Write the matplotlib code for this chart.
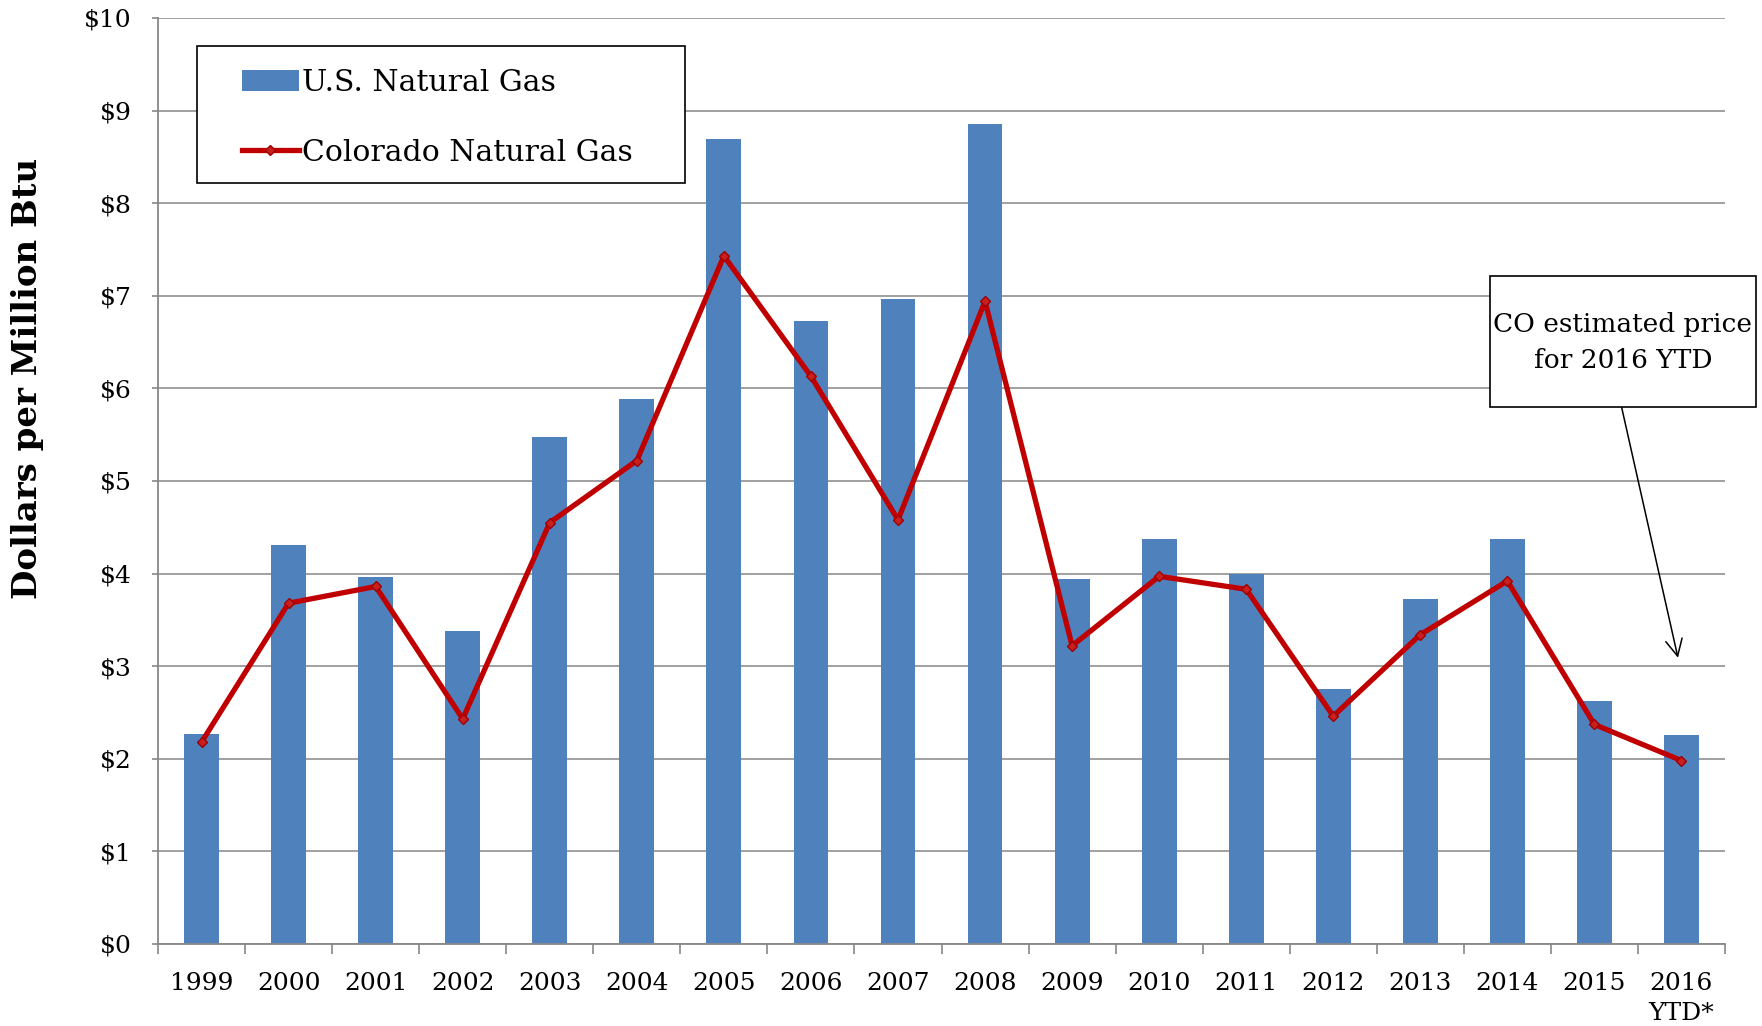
import matplotlib
matplotlib.use('Agg')
import matplotlib.pyplot as plt
from matplotlib.patches import Rectangle
import numpy as np

years = ['1999', '2000', '2001', '2002', '2003', '2004', '2005', '2006', '2007',
         '2008', '2009', '2010', '2011', '2012', '2013', '2014', '2015', '2016\nYTD*']
us_gas = [2.27, 4.31, 3.96, 3.38, 5.47, 5.89, 8.69, 6.73, 6.97,
          8.86, 3.94, 4.37, 4.00, 2.75, 3.73, 4.37, 2.62, 2.26]
co_gas = [2.18, 3.68, 3.86, 2.43, 4.55, 5.22, 7.43, 6.13, 4.58,
          6.94, 3.22, 3.97, 3.83, 2.46, 3.34, 3.92, 2.37, 1.98]
y_ticks = list(range(0, 11))
y_labels = ['$' + str(v) for v in y_ticks]

plt.rcParams['font.family'] = ['DejaVu Serif']

fig = plt.figure(figsize=(17.62, 10.26), dpi=100)
ax = fig.add_axes([0.0897, 0.08, 0.8893, 0.9025])

x = np.arange(len(years))
bars = ax.bar(x, us_gas, width=0.4, color='#4f81bd', zorder=2)
line, = ax.plot(x, co_gas, color='#c00000', linewidth=3.8, marker='D', markersize=5,
                markerfacecolor='#c8201e', markeredgecolor='#a00000', zorder=3)

ax.set_xlim(-0.5, len(years) - 0.5)
ax.set_ylim(0, 10)
ax.set_yticks(y_ticks)
ax.set_yticklabels(y_labels, fontsize=18)
ax.set_xticks(x)
ax.set_xticklabels(years, fontsize=18, linespacing=1.4)
ax.set_xticks(np.arange(-0.5, len(years), 1), minor=True)
ax.tick_params(axis='x', which='major', length=0, pad=20)
ax.tick_params(axis='x', which='minor', length=7, color='#888888', width=1.2)
ax.tick_params(axis='y', length=4, color='#888888', width=1.2, pad=15)
ax.grid(axis='y', color='#999999', linewidth=1.3, zorder=0)

for s in ['top', 'right']:
    ax.spines[s].set_visible(False)
for s in ['left', 'bottom']:
    ax.spines[s].set_color('#888888')
    ax.spines[s].set_linewidth(1.3)

fig.text(0.0158, 0.631, 'Dollars per Million Btu', rotation=90, fontsize=24.5,
         fontweight='bold', ha='center', va='center')

# legend: frame drawn separately so padding can differ left/right vs top/bottom
ax.add_patch(Rectangle((0.0249, 0.8218), 0.3114, 0.148, transform=ax.transAxes,
                       facecolor='white', edgecolor='black', linewidth=1.2, zorder=4))
leg = ax.legend([bars, line], ['U.S. Natural Gas', 'Colorado Natural Gas'],
                loc='upper left', bbox_to_anchor=(0.0536, 0.945), fontsize=21.5,
                frameon=False, borderpad=0, labelspacing=1.4, handlelength=1.9,
                handletextpad=0.1, borderaxespad=0)
leg.set_zorder(5)

# annotation box
fig.patches.append(Rectangle((0.8456, 0.6033), 0.151, 0.1277, transform=fig.transFigure,
                             facecolor='white', edgecolor='black', linewidth=1.2,
                             figure=fig, zorder=4))
fig.text(0.9211, 0.6665, 'CO estimated price\nfor 2016 YTD', fontsize=19,
         ha='center', va='center', linespacing=1.55, zorder=5)
ax.annotate('', xy=(16.96, 3.09), xytext=(0.9203, 0.6033), textcoords='figure fraction',
            arrowprops=dict(arrowstyle='->', color='black', linewidth=1.1,
                            mutation_scale=30, shrinkA=0, shrinkB=0),
            annotation_clip=False, zorder=5)

fig.savefig('out.png', dpi=100)
